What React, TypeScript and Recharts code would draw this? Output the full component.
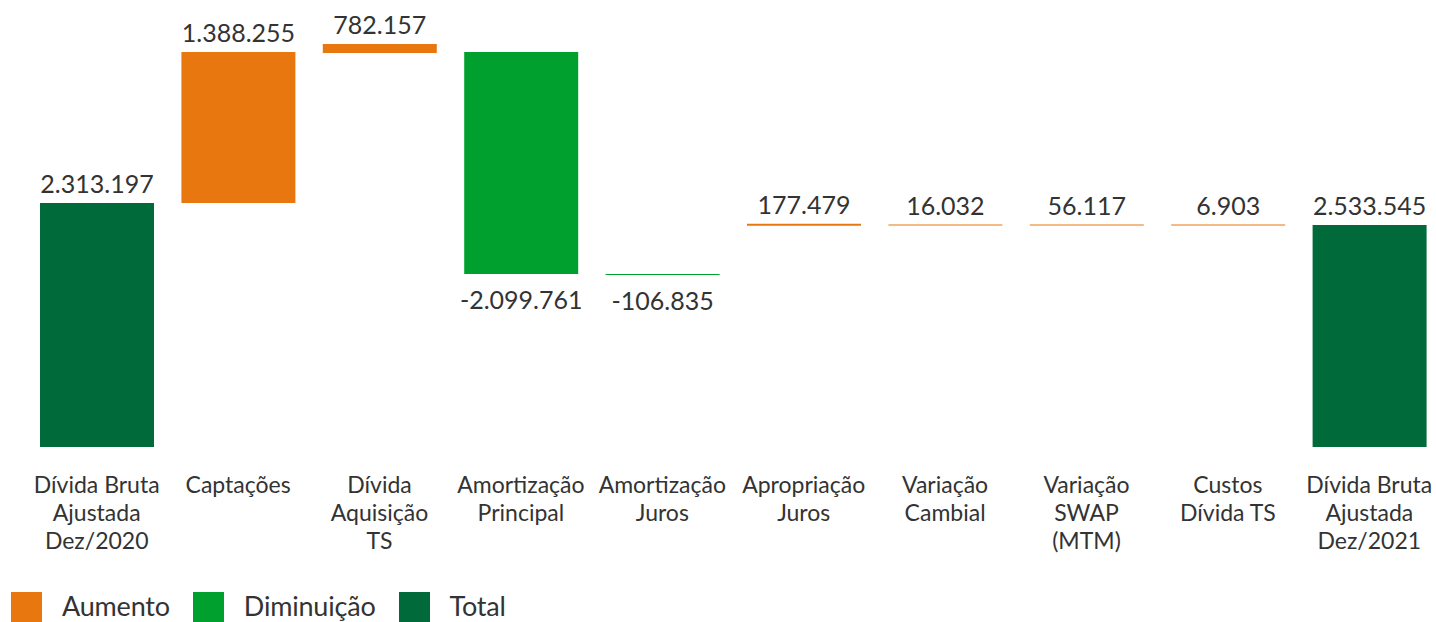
import { BarChart, Bar, XAxis, YAxis, Cell, LabelList } from 'recharts';

const categories = [
  'Dívida Bruta\nAjustada\nDez/2020',
  'Captações',
  'Dívida\nAquisição\nTS',
  'Amortização\nPrincipal',
  'Amortização\nJuros',
  'Apropriação\nJuros',
  'Variação\nCambial',
  'Variação\nSWAP\n(MTM)',
  'Custos\nDívida TS',
  'Dívida Bruta\nAjustada\nDez/2021',
];

// valores exibidos nos rótulos
const labelValues = [2313197, 1388255, 782157, -2099761, -106835, 177479, 16032, 56117, 6903, 2533545];

const kinds = ['total', 'aumento', 'aumento', 'diminuicao', 'diminuicao', 'aumento', 'aumento', 'aumento', 'aumento', 'total'];

// início e fim de cada barra, como aparecem no gráfico
const barLow = [0, 2313197, 3735000, 1640000, 1630000, 2098000, 2099000, 2099000, 2099000, 0];
const barHigh = [2313197, 3745000, 3821000, 3745000, 1640000, 2117000, 2108500, 2108500, 2108500, 2104600];

const legendItems = [
  { key: 'aumento', name: 'Aumento' },
  { key: 'diminuicao', name: 'Diminuição' },
  { key: 'total', name: 'Total' },
];

const COLORS: Record<string, string> = {
  aumento: '#E9770F',
  diminuicao: '#00A02E',
  total: '#006A3B',
};

const TEXT = '#333333';
const FONT = 'Lato, "Open Sans", sans-serif';

const data = categories.map((name, i) => ({
  name,
  idx: i,
  range: [barLow[i], barHigh[i]],
}));

function fmt(v: number) {
  const s = Math.abs(v).toString().replace(/\B(?=(\d{3})+(?!\d))/g, '.');
  return v < 0 ? '-' + s : s;
}

function CategoryTick(props: any) {
  const { x, y, payload } = props;
  const lines = String(payload.value).split('\n');
  return (
    <text x={x} y={y + 46} textAnchor="middle" fill={TEXT} fontSize={23} fontFamily={FONT}>
      {lines.map((l, i) => (
        <tspan key={i} x={x} dy={i === 0 ? 0 : 28}>
          {l}
        </tspan>
      ))}
    </text>
  );
}

function ValueLabel(props: any) {
  const { x, y, width, height, value } = props;
  const i = Number(value);
  const top = Math.min(y, y + height);
  const bottom = Math.max(y, y + height);
  const below = kinds[i] === 'diminuicao';
  return (
    <text
      x={x + width / 2}
      y={below ? bottom + 35 : top - 10}
      textAnchor="middle"
      fill={TEXT}
      fontSize={25}
      fontFamily={FONT}
    >
      {fmt(labelValues[i])}
    </text>
  );
}

export default function App() {
  return (
    <div
      style={{
        position: 'absolute',
        left: 0,
        top: 0,
        width: 1436,
        height: 622,
        overflow: 'hidden',
        background: '#fff',
        fontFamily: FONT,
      }}
    >
      <BarChart
        width={1440}
        height={622}
        data={data}
        margin={{ top: 0, right: 0, left: 26, bottom: 0 }}
      >
        <XAxis
          dataKey="name"
          axisLine={false}
          tickLine={false}
          tickSize={0}
          tickMargin={0}
          height={175}
          interval={0}
          tick={<CategoryTick />}
        />
        <YAxis hide domain={[0, 4237700]} />
        <Bar dataKey="range" barSize={114} isAnimationActive={false}>
          {data.map((d) => (
            <Cell key={d.idx} fill={COLORS[kinds[d.idx]]} />
          ))}
          <LabelList dataKey="idx" content={<ValueLabel />} />
        </Bar>
      </BarChart>
      <div
        style={{
          position: 'absolute',
          left: 11,
          top: 592,
          display: 'flex',
          alignItems: 'flex-start',
          fontSize: 27,
          color: TEXT,
        }}
      >
        {legendItems.map((it) => (
          <div key={it.key} style={{ display: 'flex', alignItems: 'flex-start', marginRight: 23 }}>
            <div style={{ width: 31, height: 30, background: COLORS[it.key], marginRight: 20 }} />
            <span style={{ lineHeight: '27px', marginTop: 0, letterSpacing: -0.2 }}>{it.name}</span>
          </div>
        ))}
      </div>
    </div>
  );
}
